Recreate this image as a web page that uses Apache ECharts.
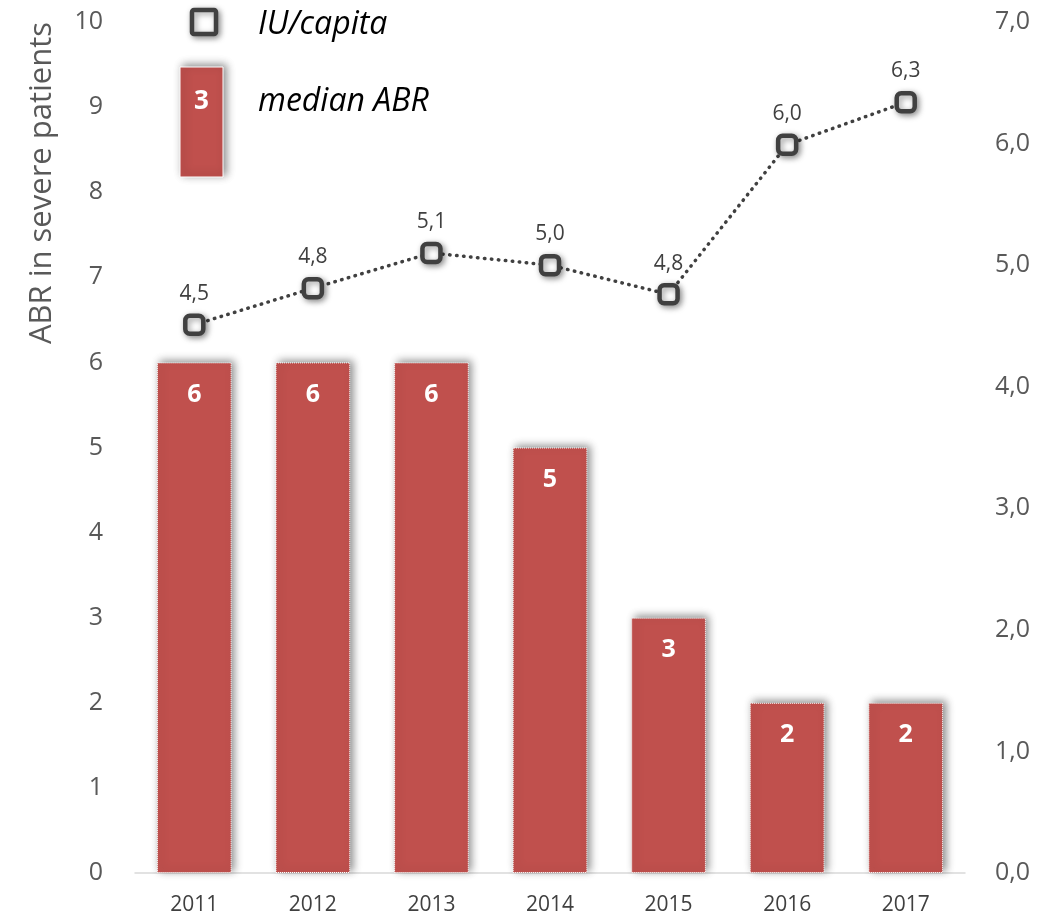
<!DOCTYPE html>
<html>
<head>
<meta charset="utf-8">
<script src="https://cdn.jsdelivr.net/npm/echarts@6/dist/echarts.min.js"></script>
<style>
  html, body { margin: 0; padding: 0; background: #fff; }
  #chart { width: 1038px; height: 920px; }
</style>
</head>
<body>
<div id="chart"></div>
<script>
// Years on the category axis
const years = ['2011', '2012', '2013', '2014', '2015', '2016', '2017'];
// Median annual bleeding rate in severe patients (left axis)
const medianABR = [6, 6, 6, 5, 3, 2, 2];
// Factor consumption, IU per capita (right axis)
const iuPerCapita = [4.51, 4.81, 5.1, 5.0, 4.76, 5.99, 6.34];
// Axis ticks
const leftTicks = { min: 0, max: 10, interval: 1 };
const rightTicks = { min: 0, max: 7, interval: 1 };

const FONT = 'Open Sans, "Noto Sans", sans-serif';
const GREY = '#595959';
const RED = '#C0504D';
const DARK = '#404040';

const comma = v => v.toFixed(1).replace('.', ',');

const chart = echarts.init(document.getElementById('chart'), null, { renderer: 'canvas' });

chart.setOption({
  animation: false,
  backgroundColor: '#ffffff',
  grid: { left: 135, right: 73, top: 22, bottom: 47 },
  xAxis: {
    type: 'category',
    data: years,
    axisLine: { lineStyle: { color: '#d9d9d9', width: 1.5 } },
    axisTick: { show: false },
    axisLabel: { color: DARK, fontFamily: FONT, fontSize: 21, margin: 22 }
  },
  yAxis: [
    {
      type: 'value',
      min: leftTicks.min, max: leftTicks.max, interval: leftTicks.interval,
      splitLine: { show: false },
      axisLine: { show: false },
      axisTick: { show: false },
      axisLabel: { color: GREY, fontFamily: FONT, fontSize: 25, margin: 32 }
    },
    {
      type: 'value',
      min: rightTicks.min, max: rightTicks.max, interval: rightTicks.interval,
      splitLine: { show: false },
      axisLine: { show: false },
      axisTick: { show: false },
      axisLabel: { color: GREY, fontFamily: FONT, fontSize: 25, margin: 30, formatter: v => comma(v) }
    }
  ],
  series: [
    {
      name: 'median ABR',
      type: 'bar',
      data: medianABR,
      yAxisIndex: 0,
      barWidth: '63%',
      itemStyle: {
        color: RED,
        borderColor: '#ffffff',
        borderWidth: 1,
        borderType: 'dotted',
        shadowColor: 'rgba(0,0,0,0.45)',
        shadowBlur: 8,
        shadowOffsetX: 3,
        shadowOffsetY: -2
      },
      label: {
        show: true,
        position: 'insideTop',
        distance: 20,
        color: '#ffffff',
        fontFamily: FONT,
        fontWeight: 'bold',
        fontSize: 25
      }
    },
    {
      name: 'IU/capita',
      type: 'line',
      data: iuPerCapita,
      yAxisIndex: 1,
      symbol: 'roundRect',
      symbolSize: 18,
      lineStyle: { color: DARK, width: 3.5, type: [0.5, 6.5], cap: 'round' },
      itemStyle: {
        color: '#ffffff',
        borderColor: DARK,
        borderWidth: 4.5,
        shadowColor: 'rgba(0,0,0,0.4)',
        shadowBlur: 6,
        shadowOffsetX: 2,
        shadowOffsetY: 2
      },
      label: {
        show: true,
        position: 'top',
        distance: 9,
        color: DARK,
        fontFamily: FONT,
        fontSize: 21,
        formatter: p => comma(p.value)
      },
      z: 5
    }
  ],
  graphic: [
    {
      type: 'text',
      x: 42, y: 183,
      rotation: Math.PI / 2,
      style: {
        text: 'ABR in severe patients',
        fill: GREY,
        font: '31px ' + FONT,
        align: 'center',
        verticalAlign: 'middle'
      }
    },
    // Legend: IU/capita marker
    {
      type: 'rect',
      shape: { x: 192, y: 10, width: 24, height: 24, r: 2 },
      style: {
        fill: '#ffffff', stroke: DARK, lineWidth: 4.5,
        shadowColor: 'rgba(0,0,0,0.4)', shadowBlur: 6, shadowOffsetX: 2, shadowOffsetY: 2
      }
    },
    {
      type: 'text',
      x: 258, y: 25,
      style: {
        text: 'IU/capita', fill: '#000', font: 'italic 32px ' + FONT,
        verticalAlign: 'middle'
      }
    },
    // Legend: median ABR bar
    {
      type: 'rect',
      shape: { x: 180, y: 67, width: 43, height: 110 },
      style: {
        fill: RED, stroke: '#ffffff', lineWidth: 1,
        shadowColor: 'rgba(0,0,0,0.45)', shadowBlur: 8, shadowOffsetX: 3, shadowOffsetY: -2
      }
    },
    {
      type: 'text',
      x: 201.5, y: 102,
      style: {
        text: '3', fill: '#ffffff', font: 'bold 26px ' + FONT,
        align: 'center', verticalAlign: 'middle'
      }
    },
    {
      type: 'text',
      x: 258, y: 102,
      style: {
        text: 'median ABR', fill: '#000', font: 'italic 32px ' + FONT,
        verticalAlign: 'middle'
      }
    }
  ]
});
</script>
</body>
</html>
